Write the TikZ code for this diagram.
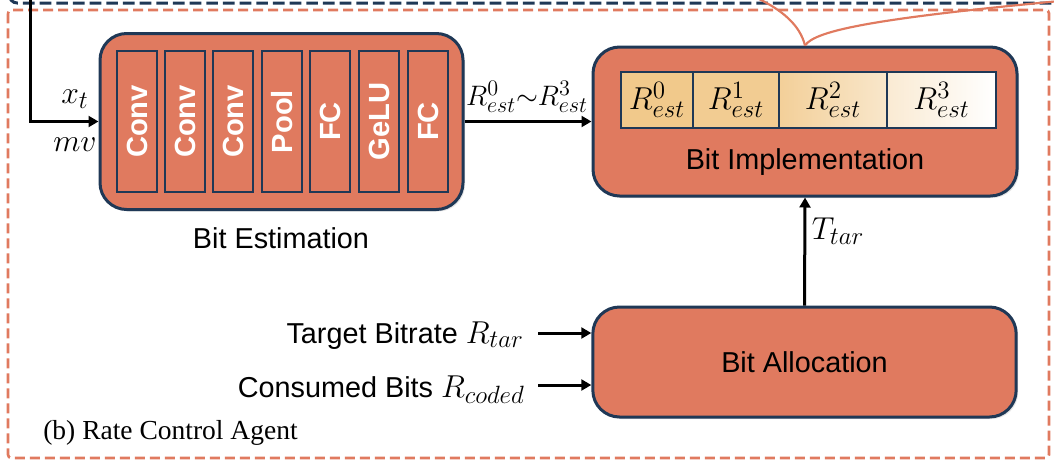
\RequirePackage{fix-cm}
\documentclass[tikz,border=0pt]{standalone}
\usepackage[no-math]{fontspec}
\setmainfont{Liberation Sans}
\newfontfamily\serifb{Liberation Serif}
\usetikzlibrary{arrows.meta,calc,shadows}
\DeclareMathSizes{17.28}{19}{15}{12}
\definecolor{boxor}{RGB}{224,122,95}
\definecolor{navy}{RGB}{31,56,86}
\definecolor{celltan}{RGB}{241,201,139}
\begin{document}
\begin{tikzpicture}[x=0.6pt,y=-0.6pt,
  blk/.style={draw=navy, line width=1.8pt, fill=boxor, rounded corners=16pt, inner sep=0pt,
    drop shadow={opacity=0.2, shadow xshift=1.2pt, shadow yshift=-1.2pt}},
  bar/.style={draw=navy, line width=1.5pt, fill=boxor, minimum width=24pt, minimum height=84.6pt,
    inner sep=0pt, text=white, font=\fontsize{17.5}{20}\selectfont\bfseries},
  arr/.style={line width=1.8pt, -{Triangle[length=6pt,width=6.5pt]}},
  lbl/.style={font=\LARGE, inner sep=0pt},
  cell/.style={draw=navy, line width=1.5pt, minimum height=33.6pt, inner sep=0pt, font=\LARGE}]
\useasboundingbox (0,0) rectangle (1054,465);
\begin{scope}
\clip (0,0) rectangle (1054,465);
% outer frames
\draw[boxor, line width=1.6pt, dash pattern=on 6pt off 3pt, rounded corners=2pt] (8,10) rectangle (1049,458);
\draw[navy, line width=1.8pt, dash pattern=on 7pt off 3pt, rounded corners=5pt] (9,-20) -- (9,3) -- (1070,3);
\end{scope}

% Bit Estimation
\node[blk, minimum width=217.8pt, minimum height=105.6pt] (est) at (281.5,121.5) {};
\foreach \x/\t [count=\i] in {137/Conv,185/Conv,233/Conv,282/Pool,330/FC,379/GeLU,428/FC}
  \node[bar] (b\i) at (\x,121.5) {\rotatebox{90}{\t}};
\node[lbl] (estlab) at (281,238) {Bit Estimation};

% Bit Implementation
\node[blk, minimum width=254.4pt, minimum height=89.4pt] (impl) at (805,121.5) {};
\node[cell, minimum width=43.2pt, fill=celltan] (c0) at (657,100) {$R^0_{est}$};
\node[cell, minimum width=51.6pt, fill=celltan!94!white] (c1) at (736,100) {$R^1_{est}$};
\node[cell, minimum width=64.8pt, left color=celltan!88!white, right color=celltan!45!white] (c2) at (833,100) {$R^2_{est}$};
\node[cell, minimum width=65.4pt, left color=celltan!38!white, right color=white] (c3) at (941.5,100) {$R^3_{est}$};
\node[lbl] (impllab) at (805,162) {Bit Implementation};

% Bit Allocation
\node[blk, minimum width=254pt, minimum height=66pt, font=\LARGE] (alloc) at (804.5,362) {Bit Allocation};

% callout tail
\draw[boxor, line width=1.3pt] (impl.north) .. controls (800,25) and (782,10) .. (757,-2);
\draw[boxor, line width=1.3pt] (impl.north) .. controls (815,30) and (880,18) .. (1060,1);

% input to estimation
\coordinate (src) at (30,0);
\draw[arr] (src) |- (est.west);
\node[lbl] (xt) at (75,99) {$x_t$};
\node[lbl] (mv) at (75,145) {$mv$};

% estimation -> implementation
\draw[arr] (est.east) -- (impl.west);
\node[lbl] (rlab) at (527,97) {\resizebox{73pt}{!}{$R^0_{est}{\sim}R^3_{est}$}};

% allocation -> implementation
\draw[arr] (alloc.north) -- (impl.south);
\node[lbl] (tlab) at (838,231) {$T_{tar}$};

% inputs to allocation
\node[lbl, anchor=base east] (tin) at (524,343) {Target Bitrate $R_{tar}$};
\node[lbl, anchor=base east] (cin) at (525,397) {Consumed Bits $R_{coded}$};
\coordinate (a1) at (538,333);
\coordinate (a2) at (538,385);
\draw[arr] (a1) -- (a1 -| alloc.west);
\draw[arr] (a2) -- (a2 -| alloc.west);

\node[inner sep=0pt, anchor=base west, font=\serifb\fontsize{16.5}{19}\selectfont] (cap) at (43,439) {(b) Rate Control Agent};
\end{tikzpicture}
\end{document}
